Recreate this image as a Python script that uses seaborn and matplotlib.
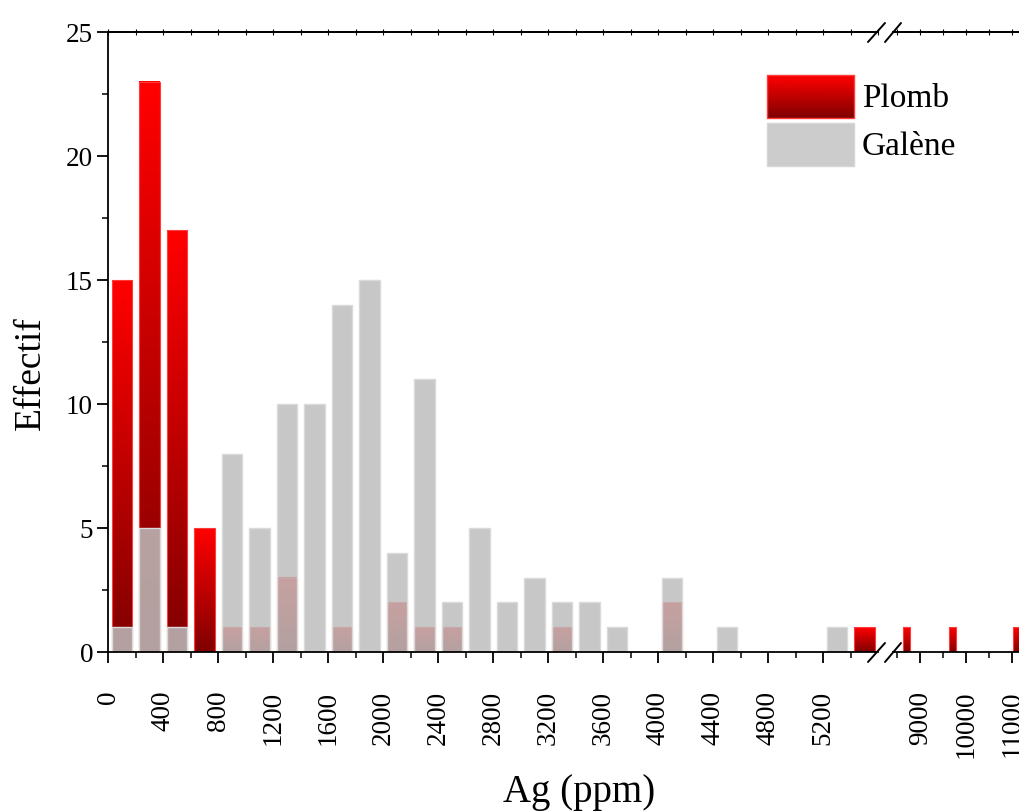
import numpy as np
import matplotlib
matplotlib.use("Agg")
import matplotlib.pyplot as plt
import seaborn as sns
from matplotlib.colors import LinearSegmentedColormap
from matplotlib.patches import Patch, Rectangle
from matplotlib.legend_handler import HandlerBase
from matplotlib.image import BboxImage
from matplotlib.transforms import Bbox, TransformedBbox
from matplotlib.lines import Line2D

# histogram bins (200 ppm wide), low range 0-5600
bin_left = np.arange(0, 5600, 200)
plomb_counts = [15, 23, 17, 5, 1, 1, 3, 0, 1, 0, 2, 1, 1, 0, 0, 0, 1, 0, 0, 0, 2, 0, 0, 0, 0, 0, 0, 1]
galene_counts = [1, 5, 1, 0, 8, 5, 10, 10, 14, 15, 4, 11, 2, 5, 2, 3, 2, 2, 1, 0, 3, 0, 1, 0, 0, 0, 1, 0]

# high range after the axis break
plomb_high_ag = [8700, 9700, 11100]
plomb_high_counts = [1, 1, 1]

low_ticks = list(range(0, 5201, 400))
high_ticks = [9000, 10000, 11000]

sns.set_style("ticks")
plt.rcParams['font.family'] = ['Liberation Serif', 'DejaVu Serif']
plt.rcParams.update({'text.color': 'black', 'axes.labelcolor': 'black',
                     'xtick.color': 'black', 'ytick.color': 'black',
                     'axes.edgecolor': 'black'})

red_cmap = LinearSegmentedColormap.from_list("plomb", ["#800000", "#ff0000"])
grey = "#bdbdbd"
red_edge = "#ff3b3b"


class GradientHandler(HandlerBase):
    def create_artists(self, legend, orig_handle, xdescent, ydescent,
                       width, height, fontsize, trans):
        bb = TransformedBbox(Bbox.from_bounds(-xdescent, -ydescent, width, height), trans)
        img = BboxImage(bb, cmap=red_cmap, interpolation='bicubic')
        img.set_data(np.linspace(1, 0, 64).reshape(-1, 1))
        img.set_clim(0, 1)
        rect = Rectangle((-xdescent, -ydescent), width, height, facecolor='none',
                         edgecolor=red_edge, lw=1, transform=trans)
        return [img, rect]


def gradient_bars(ax, patches):
    grad = np.linspace(1, 0, 64).reshape(-1, 1)
    for p in patches:
        h = p.get_height()
        if h <= 0:
            p.set_visible(False)
            continue
        x0, w = p.get_x(), p.get_width()
        ax.imshow(grad, extent=[x0, x0 + w, 0, h], cmap=red_cmap, vmin=0, vmax=1,
                  aspect='auto', interpolation='bicubic', zorder=1.5)
        p.set_facecolor('none')
        p.set_edgecolor(red_edge)
        p.set_linewidth(0.8)
        p.set_zorder(1.6)


W, H = 1019, 811
fig = plt.figure(figsize=(W / 100, H / 100), dpi=100)
ax1 = fig.add_axes([108.3 / W, 159 / H, 770 / W, 620 / H])
ax2 = fig.add_axes([892.7 / W, 159 / H, 128.8 / W, 620 / H], sharey=ax1)

centers = bin_left + 100
edges = list(range(0, 5601, 200))

# low range
n0 = len(ax1.patches)
sns.histplot(x=centers, weights=plomb_counts, bins=edges, shrink=0.75, ax=ax1,
             color="#ff0000", alpha=1)
gradient_bars(ax1, ax1.patches[n0:])
n1 = len(ax1.patches)
sns.histplot(x=centers, weights=galene_counts, bins=edges, shrink=0.75, ax=ax1,
             color=grey, alpha=0.85, edgecolor="#dadada", linewidth=1)
for p in ax1.patches[n1:]:
    p.set_zorder(2)
    if p.get_height() <= 0:
        p.set_visible(False)

# high range
n0 = len(ax2.patches)
sns.histplot(x=plomb_high_ag, weights=plomb_high_counts, bins=list(range(8400, 11201, 200)),
             shrink=0.75, ax=ax2, color="#ff0000", alpha=1)
gradient_bars(ax2, ax2.patches[n0:])

ax1.set_xlim(0, 5600)
ax2.set_xlim(8400, 11200)
ax1.set_ylim(0, 25)

for ax in (ax1, ax2):
    for s in ax.spines.values():
        s.set_linewidth(1.3)
    ax.set_xlabel("")
    ax.set_ylabel("")
ax1.spines['right'].set_visible(False)
ax2.spines['left'].set_visible(False)

ax1.set_yticks([0, 5, 10, 15, 20, 25])
ax1.set_yticks(np.arange(2.5, 25, 5), minor=True)
ax1.set_xticks(low_ticks)
ax1.set_xticks(np.arange(200, 5600, 400), minor=True)
ax2.set_xticks(high_ticks)
ax2.set_xticks([8500, 9500, 10500], minor=True)

for ax in (ax1, ax2):
    ax.tick_params(axis='x', which='major', direction='out', length=8, width=1.3,
                   labelsize=19.5, labelrotation=90, pad=20)
    ax.tick_params(axis='x', which='minor', direction='out', length=4, width=1.1)
    for lab in ax.get_xticklabels():
        lab.set_verticalalignment('top')
ax1.tick_params(axis='y', which='major', direction='out', length=8, width=1.3,
                labelsize=19.5, pad=3)
ax1.tick_params(axis='y', which='minor', direction='out', length=4, width=1.1)
ax2.tick_params(axis='y', which='both', left=False, labelleft=False)

# small ticks along the top edge
sec1 = ax1.secondary_xaxis('top')
sec1.set_xticks(np.arange(0, 5601, 200))
sec1.tick_params(direction='inout', length=4, width=0.8, labeltop=False)
sec1.spines['top'].set_linewidth(1.3)
sec2 = ax2.secondary_xaxis('top')
sec2.set_xticks([8500, 9000, 9500, 10000, 10500, 11000])
sec2.tick_params(direction='inout', length=4, width=0.8, labeltop=False)
sec2.spines['top'].set_linewidth(1.3)

ax1.set_ylabel("Effectif", fontsize=27)
ax1.yaxis.set_label_coords(-0.078, 0.45)
ax1.set_xlabel("Ag (ppm)", fontsize=28)
ax1.xaxis.set_label_coords(0.611, -0.197)

# break marks
for y0 in (811 - 662, 811 - 42):
    for xa, xb in ((868, 885), (885, 901)):
        fig.add_artist(Line2D([xa / W, xb / W], [y0 / H, (y0 + 19) / H],
                              transform=fig.transFigure, color='black', lw=1.4))

plomb_handle = Patch(facecolor='#ff0000')
galene_handle = Patch(facecolor='#cccccc', edgecolor='#d6d6d6')
fig.legend([plomb_handle, galene_handle], ["Plomb", "Galène"],
           handler_map={plomb_handle: GradientHandler()},
           loc='upper left', bbox_to_anchor=(767 / W, 1 - 75 / H),
           frameon=False, fontsize=24, borderpad=0, borderaxespad=0,
           handlelength=2.6, handleheight=1.6, labelspacing=0.15, handletextpad=0.25)

fig.savefig("out.png", dpi=100)
